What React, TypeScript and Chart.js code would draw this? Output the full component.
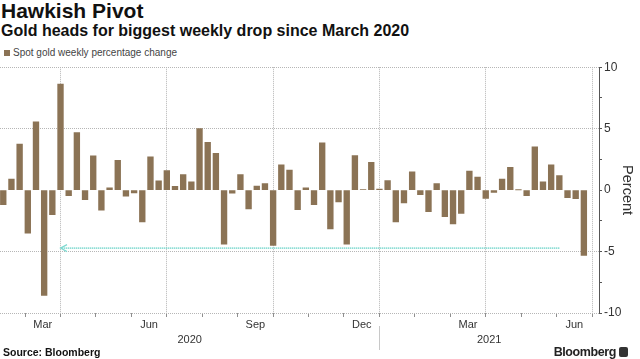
import { useEffect, useRef } from 'react';
import { Chart, registerables } from 'chart.js';

Chart.register(...registerables);

// ---- Data -----------------------------------------------------------------
// Week-ending dates (Fridays)
const weeks = [
  '2020-02-07', '2020-02-14', '2020-02-21', '2020-02-28',
  '2020-03-06', '2020-03-13', '2020-03-20', '2020-03-27',
  '2020-04-03', '2020-04-10', '2020-04-17', '2020-04-24',
  '2020-05-01', '2020-05-08', '2020-05-15', '2020-05-22', '2020-05-29',
  '2020-06-05', '2020-06-12', '2020-06-19', '2020-06-26',
  '2020-07-03', '2020-07-10', '2020-07-17', '2020-07-24', '2020-07-31',
  '2020-08-07', '2020-08-14', '2020-08-21', '2020-08-28',
  '2020-09-04', '2020-09-11', '2020-09-18', '2020-09-25',
  '2020-10-02', '2020-10-09', '2020-10-16', '2020-10-23', '2020-10-30',
  '2020-11-06', '2020-11-13', '2020-11-20', '2020-11-27',
  '2020-12-04', '2020-12-11', '2020-12-18', '2020-12-25',
  '2021-01-01', '2021-01-08', '2021-01-15', '2021-01-22', '2021-01-29',
  '2021-02-05', '2021-02-12', '2021-02-19', '2021-02-26',
  '2021-03-05', '2021-03-12', '2021-03-19', '2021-03-26',
  '2021-04-02', '2021-04-09', '2021-04-16', '2021-04-23', '2021-04-30',
  '2021-05-07', '2021-05-14', '2021-05-21', '2021-05-28',
  '2021-06-04', '2021-06-11', '2021-06-18',
];

// Spot gold weekly percentage change
const goldWeeklyChange = [
  -1.19, 0.89, 3.75, -3.5,
  5.55, -8.57, -1.99, 8.63,
  -0.46, 4.69, -0.78, 2.78,
  -1.64, 0.19, 2.43, -0.49, -0.22,
  -2.59, 2.7, 0.75, 1.59,
  0.3, 1.27, 0.67, 5.01, 3.88,
  2.99, -4.39, -0.24, 1.27,
  -1.54, 0.32, 0.54, -4.5,
  2.05, 1.62, -1.59, 0.19, -1.19,
  3.85, -3.15, -0.97, -4.39,
  2.8, 0.03, 2.26, 0.08,
  0.78, -2.59, -1.05, 1.48, -0.38,
  -1.75, 0.54, -2.16, -2.75,
  -1.89, 1.54, 1.05, -0.67,
  -0.19, 0.89, 1.86, 0.02, -0.46,
  3.53, 0.67, 2.05, 1.19,
  -0.62, -0.7, -5.31,
];

const SERIES_LABEL = 'Spot gold weekly percentage change';
const TITLE = 'Hawkish Pivot';
const SUBTITLE = 'Gold heads for biggest weekly drop since March 2020';
const SOURCE = 'Source: Bloomberg';

// Axis structure: quarter-end week index and the label of that quarter's last month
const quarterEndWeek = [7, 20, 33, 46, 59, 72];
const quarterMonthLabels = ['Mar', 'Jun', 'Sep', 'Dec', 'Mar', 'Jun'];
const yearLabels = ['2020', '2021'];
const yearBoundaryWeek = 46;
const yTicks = [10, 5, 0, -5, -10];

// Annotation arrow (week index range and level in percent)
const arrowFromWeek = 68;
const arrowToWeek = 7;
const arrowLevel = -4.72;

const X_MIN = -0.4;
const X_MAX = 72.85;

const BAR_COLOR = '#8B7355';
const GRID_COLOR = '#b6b6b6';
const FONT = '"Liberation Sans", Arial, sans-serif';

type XTick = { value: number; label: string | string[]; kind: 'month' | 'quarter' | 'label' | 'year' };

function buildXTicks(): XTick[] {
  const m = 13 / 3;
  const out: XTick[] = [];
  quarterEndWeek.forEach((q, qi) => {
    out.push({ value: q, label: '', kind: 'quarter' });
    out.push({ value: q - m, label: '', kind: 'month' });
    out.push({ value: q - 2 * m, label: '', kind: 'month' });
    out.push({ value: q - m / 2, label: quarterMonthLabels[qi], kind: 'label' });
  });
  out.push({ value: (X_MIN + yearBoundaryWeek) / 2, label: ['', yearLabels[0]], kind: 'year' });
  out.push({ value: (yearBoundaryWeek + X_MAX) / 2, label: ['', yearLabels[1]], kind: 'year' });
  return out.filter((t) => t.value >= X_MIN && t.value <= X_MAX).sort((a, b) => a.value - b.value);
}

const xTicks = buildXTicks();

const overlayPlugin = {
  id: 'overlay',
  afterDatasetsDraw(chart: any) {
    const { ctx, scales } = chart;
    const xs = scales.x;
    const ys = scales.y;
    const y = ys.getPixelForValue(arrowLevel);
    const x1 = xs.getPixelForValue(arrowFromWeek);
    const x2 = xs.getPixelForValue(arrowToWeek);
    ctx.save();
    ctx.strokeStyle = '#7FD9D0';
    ctx.lineWidth = 1.6;
    ctx.setLineDash([1.2, 0.8]);
    ctx.beginPath();
    ctx.moveTo(x1, y);
    ctx.lineTo(x2 + 1, y);
    ctx.stroke();
    ctx.setLineDash([]);
    ctx.lineWidth = 1.2;
    ctx.beginPath();
    ctx.moveTo(x2 + 6.5, y - 3.5);
    ctx.lineTo(x2, y);
    ctx.lineTo(x2 + 6.5, y + 3.5);
    ctx.stroke();
    ctx.restore();
  },
  afterDraw(chart: any) {
    const { ctx, scales, chartArea } = chart;
    const xs = scales.x;
    const x = Math.round(xs.getPixelForValue(yearBoundaryWeek)) + 0.5;
    ctx.save();
    ctx.strokeStyle = '#c8c8c8';
    ctx.lineWidth = 1;
    ctx.beginPath();
    ctx.moveTo(x, chartArea.bottom + 13);
    ctx.lineTo(x, chartArea.bottom + 37);
    ctx.stroke();
    ctx.restore();
  },
};

function GoldChart() {
  const ref = useRef<HTMLCanvasElement | null>(null);
  useEffect(() => {
    if (!ref.current) return;
    const chart = new Chart(ref.current, {
      type: 'bar',
      data: {
        labels: weeks,
        datasets: [
          {
            label: SERIES_LABEL,
            data: goldWeeklyChange.map((v, i) => ({ x: i, y: v })) as any,
            backgroundColor: BAR_COLOR,
            borderWidth: 0,
            barThickness: 5.7,
          },
        ],
      },
      options: {
        animation: false,
        responsive: false,
        maintainAspectRatio: false,
        layout: { padding: { top: 7, left: 0, right: 0, bottom: 0 } },
        plugins: {
          legend: { display: false },
          tooltip: { enabled: false },
        },
        scales: {
          x: {
            type: 'linear',
            min: X_MIN,
            max: X_MAX,
            offset: false,
            bounds: 'data',
            afterFit(s: any) {
              s.height = 37;
            },
            afterBuildTicks(s: any) {
              s.ticks = xTicks.map((t) => ({ value: t.value }));
            },
            ticks: {
              autoSkip: false,
              maxRotation: 0,
              minRotation: 0,
              padding: 0,
              color: '#333',
              font: { family: FONT, size: 11, lineHeight: '15px' } as any,
              callback: (_v: any, i: number) => xTicks[i]?.label ?? '',
            },
            grid: {
              offset: false,
              drawTicks: true,
              tickLength: 4,
              lineWidth: 1,
              color: (c: any) => (xTicks[c.index]?.kind === 'quarter' ? GRID_COLOR : 'rgba(0,0,0,0)'),
              tickColor: (c: any) => {
                const k = xTicks[c.index]?.kind;
                return k === 'quarter' || k === 'month' ? '#8f8f8f' : 'rgba(0,0,0,0)';
              },
            } as any,
            border: { display: false, dash: [1, 1] },
          },
          y: {
            type: 'linear',
            position: 'right',
            min: -10,
            max: 10,
            afterFit(s: any) {
              s.width = 41;
            },
            afterBuildTicks(s: any) {
              const t: any[] = [];
              for (let k = 0; k < yTicks.length; k++) {
                t.push({ value: yTicks[k] });
                if (k < yTicks.length - 1) t.push({ value: (yTicks[k] + yTicks[k + 1]) / 2 });
              }
              s.ticks = t.sort((a, b) => a.value - b.value);
            },
            ticks: {
              autoSkip: false,
              padding: 2,
              color: '#333',
              font: { family: FONT, size: 12 },
              callback: (v: any) => (yTicks.includes(Number(v)) ? String(v) : ''),
            },
            grid: {
              drawTicks: true,
              tickLength: 3,
              color: (c: any) => {
                const v = c.tick?.value;
                return v !== 0 && yTicks.includes(v) ? GRID_COLOR : 'rgba(0,0,0,0)';
              },
              tickColor: '#555',
            },
            border: { display: true, color: '#555', width: 1, dash: [1, 1] },
            title: {
              display: true,
              text: 'Percent',
              color: '#333',
              font: { family: FONT, size: 14.5 },
              padding: { top: 4, bottom: 0 },
            },
          },
        },
      },
      plugins: [overlayPlugin],
    });
    return () => chart.destroy();
  }, []);
  return (
    <canvas
      ref={ref}
      width={640}
      height={292}
      style={{ position: 'absolute', left: 0, top: 58, width: 640, height: 292 }}
    />
  );
}

export default function App() {
  return (
    <div
      style={{
        position: 'fixed',
        left: 0,
        top: 0,
        width: 640,
        height: 359,
        overflow: 'hidden',
        background: '#fff',
        color: '#111',
        fontFamily: FONT,
      }}
    >
      <div style={{ position: 'absolute', left: 1, top: 0, fontSize: 21, fontWeight: 700, lineHeight: '21px', whiteSpace: 'nowrap' }}>
        {TITLE}
      </div>
      <div style={{ position: 'absolute', left: 1, top: 23, fontSize: 16, fontWeight: 700, lineHeight: '16px', whiteSpace: 'nowrap' }}>
        {SUBTITLE}
      </div>
      <div style={{ position: 'absolute', left: 4, top: 47, height: 11, display: 'flex', alignItems: 'center', whiteSpace: 'nowrap' }}>
        <span style={{ display: 'inline-block', width: 6, height: 6, background: BAR_COLOR, marginRight: 3 }} />
        <span style={{ fontSize: 10, lineHeight: '11px', color: '#444' }}>{SERIES_LABEL}</span>
      </div>
      <GoldChart />
      <div style={{ position: 'absolute', left: 3, top: 346, fontSize: 10.5, fontWeight: 700, lineHeight: '12px', color: '#111', whiteSpace: 'nowrap' }}>
        {SOURCE}
      </div>
      <div style={{ position: 'absolute', right: 12, top: 345, height: 14, display: 'flex', alignItems: 'center', whiteSpace: 'nowrap' }}>
        <span style={{ fontSize: 12.5, fontWeight: 700, letterSpacing: -0.4, color: '#222', lineHeight: '14px' }}>Bloomberg</span>
        <span style={{ display: 'inline-block', width: 9, height: 10, background: '#333', borderRadius: 2, marginLeft: 3 }} />
      </div>
    </div>
  );
}
